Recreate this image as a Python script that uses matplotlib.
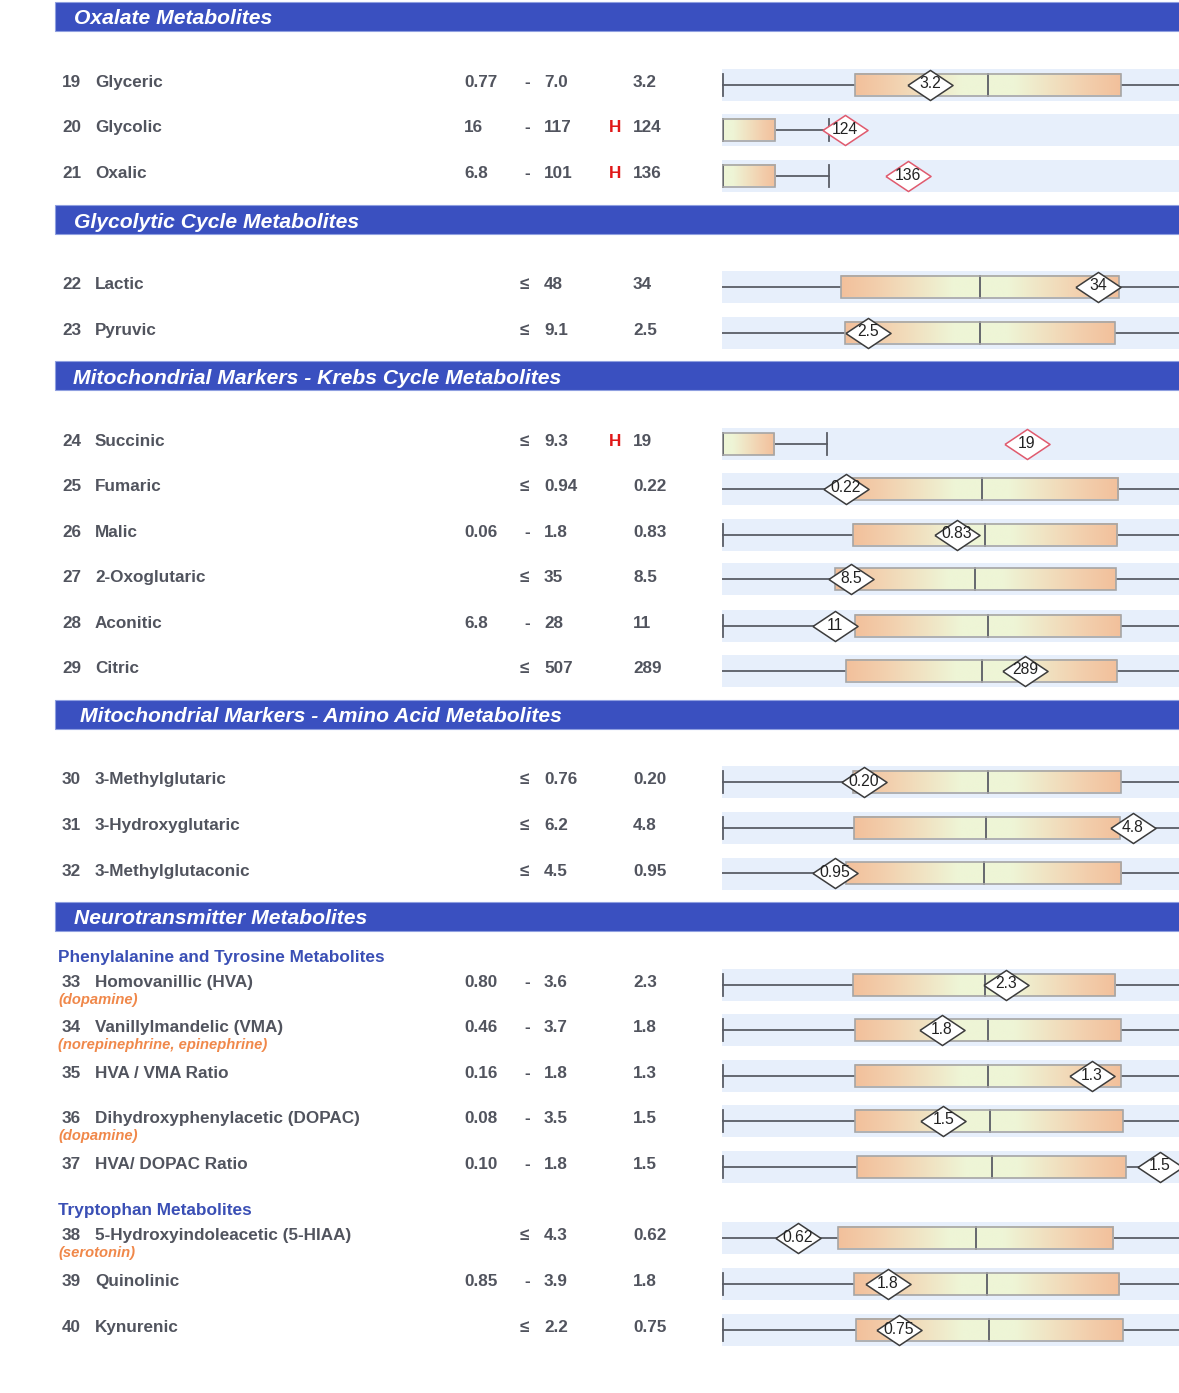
import matplotlib
matplotlib.use("Agg")
import matplotlib.pyplot as plt
import numpy as np
from matplotlib.colors import LinearSegmentedColormap
from matplotlib.patches import Rectangle

plt.rcParams['font.family'] = ['Liberation Sans', 'DejaVu Sans']

# ---------------- data ----------------
ids = [19, 20, 21, 22, 23, 24, 25, 26, 27, 28, 29, 30, 31, 32,
       33, 34, 35, 36, 37, 38, 39, 40]
names = ["Glyceric", "Glycolic", "Oxalic", "Lactic", "Pyruvic", "Succinic",
         "Fumaric", "Malic", "2-Oxoglutaric", "Aconitic", "Citric",
         "3-Methylglutaric", "3-Hydroxyglutaric", "3-Methylglutaconic",
         "Homovanillic (HVA)", "Vanillylmandelic (VMA)", "HVA / VMA Ratio",
         "Dihydroxyphenylacetic (DOPAC)", "HVA/ DOPAC Ratio",
         "5-Hydroxyindoleacetic (5-HIAA)", "Quinolinic", "Kynurenic"]
ref_low = ["0.77", "16", "6.8", "", "", "", "", "0.06", "", "6.8", "",
           "", "", "", "0.80", "0.46", "0.16", "0.08", "0.10", "", "0.85", ""]
ref_sep = ["-", "-", "-", "≤", "≤", "≤", "≤", "-", "≤", "-", "≤",
           "≤", "≤", "≤", "-", "-", "-", "-", "-", "≤", "-", "≤"]
ref_high = ["7.0", "117", "101", "48", "9.1", "9.3", "0.94", "1.8", "35", "28", "507",
            "0.76", "6.2", "4.5", "3.6", "3.7", "1.8", "3.5", "1.8", "4.3", "3.9", "2.2"]
flags = ["", "H", "H", "", "", "H", "", "", "", "", "",
         "", "", "", "", "", "", "", "", "", "", ""]
results = ["3.2", "124", "136", "34", "2.5", "19", "0.22", "0.83", "8.5", "11", "289",
           "0.20", "4.8", "0.95", "2.3", "1.8", "1.3", "1.5", "1.5", "0.62", "1.8", "0.75"]
notes = {33: "(dopamine)", 34: "(norepinephrine, epinephrine)",
         36: "(dopamine)", 38: "(serotonin)"}

# positions on the graphic percentile scale (visible track = 0..100)
box_lo = [29.1, 0, 0, 26.0, 26.9, 0, 27.4, 28.7, 24.7, 29.1, 27.1,
          28.7, 28.9, 27.1, 28.7, 29.1, 29.1, 29.1, 29.5, 25.4, 28.9, 29.3]
box_med = [58.2, None, None, 56.5, 56.5, None, 56.9, 57.5, 55.4, 58.2, 56.9,
           58.2, 57.8, 57.3, 57.5, 58.2, 58.2, 58.6, 59.1, 55.6, 58.0, 58.4]
box_hi = [87.3, 11.6, 11.6, 86.9, 86.0, 11.4, 86.7, 86.4, 86.2, 87.3, 86.4,
          87.3, 87.1, 87.3, 86.0, 87.3, 87.3, 87.7, 88.4, 85.6, 86.9, 87.7]
whisk_cap = [None, 23.4, 23.4, None, None, 23.0, None, None, None, None, None,
             None, None, None, None, None, None, None, None, None, None, None]
left_cap = [True, False, False, False, False, False, False, True, False, True, False,
            True, True, False, True, True, True, True, True, False, True, True]
result_pos = [45.5, 26.9, 40.7, 82.3, 31.9, 66.7, 27.1, 51.4, 28.2, 24.7, 66.3,
              31.1, 89.9, 24.7, 62.1, 48.1, 81.0, 48.4, 95.8, 16.6, 36.3, 38.7]

sections = [("Oxalate Metabolites", 74),
            ("Glycolytic Cycle Metabolites", 74),
            ("Mitochondrial Markers - Krebs Cycle Metabolites", 73),
            ("Mitochondrial Markers - Amino Acid Metabolites", 80),
            ("Neurotransmitter Metabolites", 74)]
subheads = ["Phenylalanine and Tyrosine Metabolites", "Tryptophan Metabolites"]

# ---------------- layout (pixels) ----------------
W, H = 1179, 1393
section_y = [16.5, 219.5, 375.5, 714.5, 916.5]
subhead_y = [956, 1209]
row_text_y = [81, 126, 172, 283, 329, 440, 485, 531, 576, 622, 667,
              778, 824, 870, 981, 1026, 1072, 1117, 1163, 1234, 1280, 1326]
track_dy = 3.5
track_x0, track_x1 = 722, 1179
band_h = 32
box_half = 11

TXT = '#51545e'
ORANGE = '#f2c09b'
PALE = '#eef5d6'
BLUE = '#3a50c0'

fig = plt.figure(figsize=(W / 100, H / 100), dpi=100)
ax = fig.add_axes([0, 0, 1, 1])
ax.set_xlim(0, W)
ax.set_ylim(H, 0)
ax.axis('off')

# section header bars
for (title, tx), yc in zip(sections, section_y):
    ax.add_patch(Rectangle((55, yc - 14.5), W - 55 + 5, 29, facecolor=BLUE,
                           edgecolor='#8f9fe0', lw=0.8))
    ax.text(tx, yc + 8, title, color='white', fontsize=15.2, fontweight='bold',
            style='italic', va='baseline', ha='left')

for t, yc in zip(subheads, subhead_y):
    ax.text(58, yc + 6.3, t, color='#3a4fb5', fontsize=12.4, fontweight='bold',
            va='baseline', ha='left')

fs = 12.3
for i, rid in enumerate(ids):
    y = row_text_y[i] + 6.3
    kw = dict(color=TXT, fontsize=fs, fontweight='bold', va='baseline')
    ax.text(62, y, str(rid), **kw)
    ax.text(95, y, names[i], **kw)
    if ref_low[i]:
        ax.text(464, y, ref_low[i], **kw)
    if ref_sep[i] == '-':
        ax.text(527, y, '-', ha='center', **kw)
    else:
        ax.text(520, y, '≤', ha='left', **kw)
    ax.text(544, y, ref_high[i], **kw)
    if flags[i]:
        ax.text(609, y, flags[i], color='#e01818', fontsize=fs, fontweight='bold', va='baseline')
    ax.text(633, y, results[i], **kw)
    if rid in notes:
        ax.text(58, y + 17, notes[rid], color='#f0884a', fontsize=10.6,
                fontweight='bold', style='italic', va='baseline')

# tracks
cm_left = LinearSegmentedColormap.from_list('l', [(0, ORANGE), (0.25, '#f3ceac'), (0.8, PALE), (1, PALE)])
cm_right = LinearSegmentedColormap.from_list('r', [(0, PALE), (0.2, PALE), (0.75, '#f3ceac'), (1, ORANGE)])
grad = np.linspace(0, 1, 256).reshape(1, -1)

for i, rid in enumerate(ids):
    yc = row_text_y[i] + track_dy
    tax = fig.add_axes([track_x0 / W, 1 - (yc + band_h / 2) / H,
                        (track_x1 - track_x0) / W, band_h / H])
    tax.set_xlim(0, 100)
    tax.set_ylim(-band_h / 2, band_h / 2)
    tax.set_facecolor('#e7effb')
    for s in tax.spines.values():
        s.set_visible(False)
    tax.set_xticks([])
    tax.set_yticks([])

    lo, hi, med = box_lo[i], box_hi[i], box_med[i]
    lw_line = 1.3
    lc = '#5a5d66'
    # whiskers
    if whisk_cap[i] is None:
        if lo > 0:
            tax.plot([0, lo], [0, 0], color=lc, lw=lw_line, zorder=1)
        tax.plot([hi, 100], [0, 0], color=lc, lw=lw_line, zorder=1)
    else:
        tax.plot([hi, whisk_cap[i]], [0, 0], color=lc, lw=lw_line, zorder=1)
        tax.plot([whisk_cap[i]] * 2, [-box_half, box_half], color=lc, lw=lw_line, zorder=1)
    if left_cap[i]:
        tax.plot([0.25, 0.25], [-box_half, box_half], color=lc, lw=lw_line, zorder=3, clip_on=False)

    # gradient box
    if med is not None:
        tax.imshow(grad, cmap=cm_left, extent=[lo, med, -box_half, box_half],
                   aspect='auto', zorder=2, interpolation='bilinear')
        tax.imshow(grad, cmap=cm_right, extent=[med, hi, -box_half, box_half],
                   aspect='auto', zorder=2, interpolation='bilinear')
        tax.plot([med, med], [-box_half, box_half], color=lc, lw=lw_line, zorder=3)
    else:
        tax.imshow(grad, cmap=cm_right, extent=[lo, hi, -box_half, box_half],
                   aspect='auto', zorder=2, interpolation='bilinear')
        tax.plot([0.25, 0.25], [-box_half, box_half], color=lc, lw=lw_line, zorder=3, clip_on=False)
    tax.add_patch(Rectangle((lo, -box_half), hi - lo, 2 * box_half, fill=False,
                            edgecolor='#a5a5a5', lw=1.2, zorder=3))
    tax.set_xlim(0, 100)
    tax.set_ylim(-band_h / 2, band_h / 2)

    # result diamond
    ec = '#e05a6e' if flags[i] else '#3c3c3c'
    tax.plot([result_pos[i]], [0], marker=[(-1.5, 0), (0, 1), (1.5, 0), (0, -1), (-1.5, 0)],
             markersize=32.5, markerfacecolor='white', markeredgecolor=ec,
             markeredgewidth=1.1, zorder=5, clip_on=False, linestyle='none')
    tax.text(result_pos[i], 0.5, results[i], fontsize=11.3, color='#222222',
             ha='center', va='center', zorder=6, clip_on=False)

fig.savefig('out.png', dpi=100)
